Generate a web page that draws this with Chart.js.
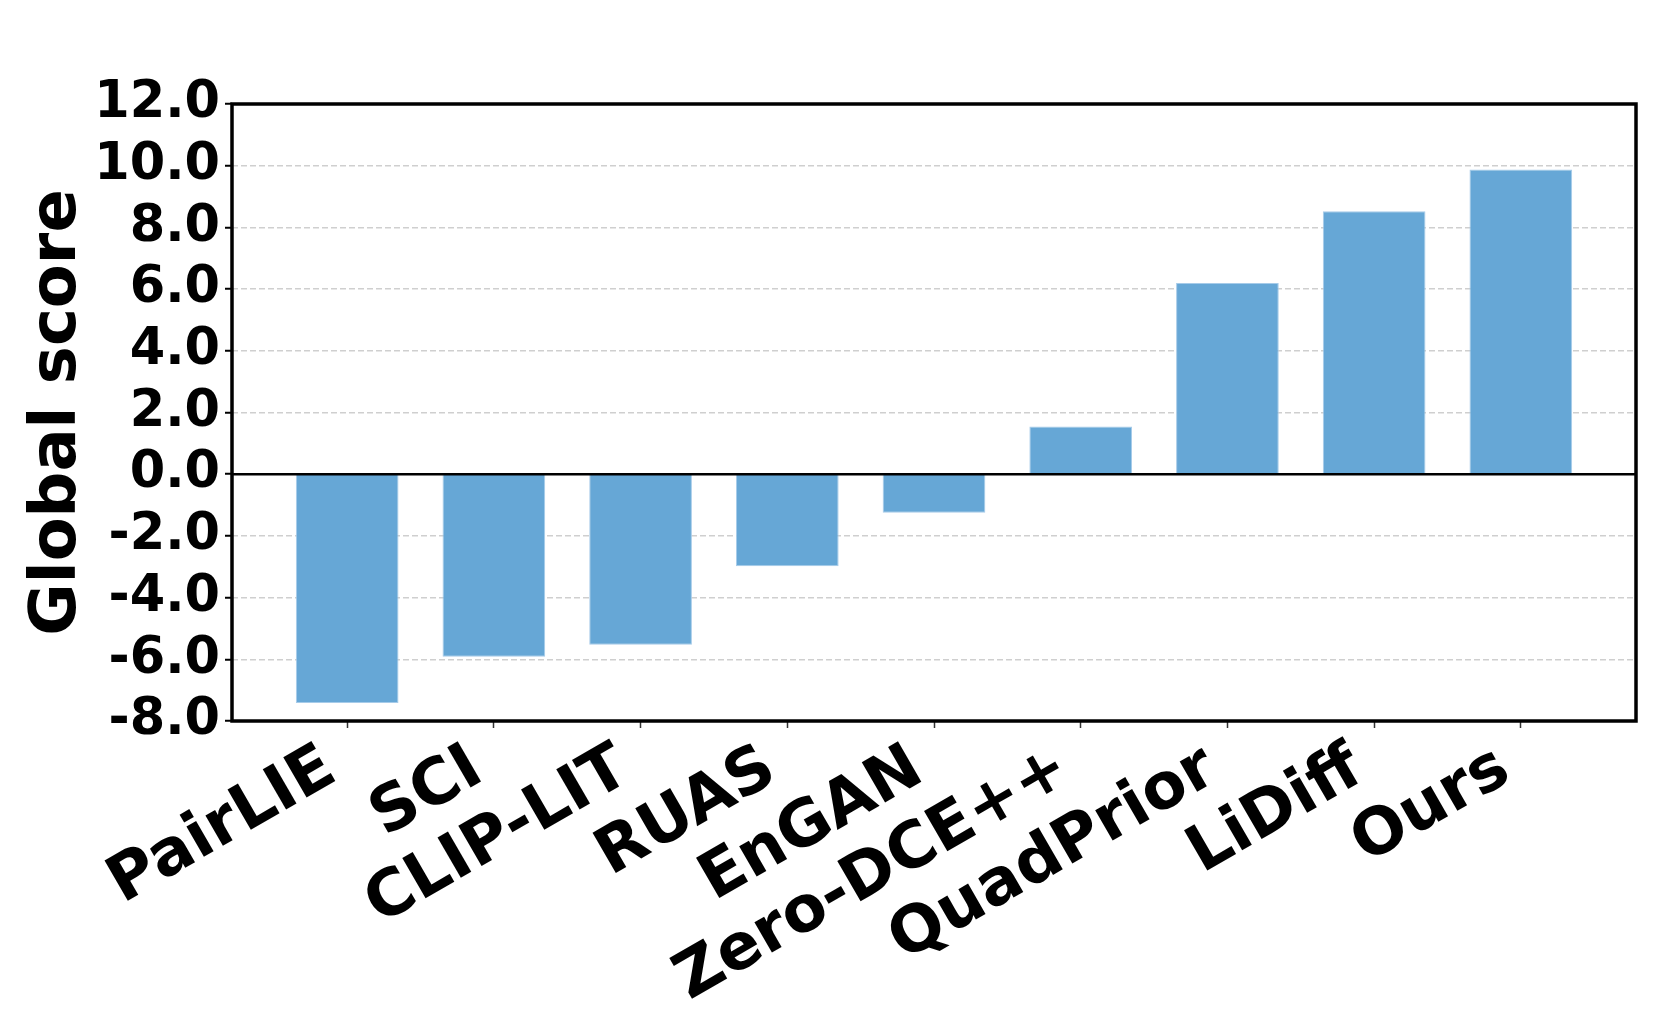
<!DOCTYPE html>
<html>
<head>
<meta charset="utf-8">
<title>Global score</title>
<script src="https://cdn.jsdelivr.net/npm/chart.js@4.4.1/dist/chart.umd.min.js"></script>
<style>
  html, body { margin: 0; padding: 0; background: #fff; }
  #scoreChart { display: block; }
</style>
</head>
<body>
<canvas id="scoreChart" width="1661" height="1036"></canvas>
<script>
// --- DATA ---
const methods = ['PairLIE', 'SCI', 'CLIP-LIT', 'RUAS', 'EnGAN', 'Zero-DCE++', 'QuadPrior', 'LiDiff', 'Ours'];
const globalScores = [-7.42, -5.92, -5.53, -2.98, -1.25, 1.55, 6.2, 8.52, 9.88];
const yTicks = [-8, -6, -4, -2, 0, 2, 4, 6, 8, 10, 12];

Chart.defaults.font.family = "'DejaVu Sans', sans-serif";
Chart.defaults.font.weight = 'bold';
Chart.defaults.color = '#000';

// zero line + black frame round the plot
const frameAndZero = {
  id: 'frameAndZero',
  afterDatasetsDraw(chart) {
    const { ctx, chartArea: a, scales: { y } } = chart;
    const y0 = y.getPixelForValue(0);
    ctx.save();
    ctx.strokeStyle = '#000';
    ctx.lineWidth = 2.5;
    ctx.beginPath();
    ctx.moveTo(a.left, y0);
    ctx.lineTo(a.right, y0);
    ctx.stroke();
    ctx.lineWidth = 3.5;
    ctx.strokeRect(a.left, a.top, a.right - a.left, a.bottom - a.top);
    ctx.restore();
  }
};

const ctx = document.getElementById('scoreChart').getContext('2d');
new Chart(ctx, {
  type: 'bar',
  data: {
    datasets: [{
      label: 'Global score',
      data: globalScores.map((v, i) => ({ x: i, y: v })),
      backgroundColor: '#66a7d6',
      borderColor: '#a6cbe9',
      borderWidth: 1,
      categoryPercentage: 1,
      barPercentage: 0.7
    }]
  },
  options: {
    responsive: false,
    animation: false,
    layout: { padding: { top: 104, right: 25, left: 0, bottom: 0 } },
    plugins: {
      legend: { display: false },
      tooltip: { enabled: false }
    },
    scales: {
      x: {
        type: 'linear',
        min: -0.785,
        max: 8.785,
        offset: false,
        afterBuildTicks: (scale) => { scale.ticks = methods.map((m, i) => ({ value: i })); },
        afterFit: (scale) => { scale.height = 1036 - 721; },
        grid: { offset: false, drawOnChartArea: false, tickLength: 7, tickColor: '#333', tickWidth: 1.5 },
        border: { display: false },
        ticks: {
          autoSkip: false,
          minRotation: 30,
          maxRotation: 30,
          padding: 3,
          labelOffset: -16,
          font: { size: 64, weight: 'bold' },
          callback: (v) => methods[v]
        }
      },
      y: {
        min: -8,
        max: 12,
        afterBuildTicks: (scale) => { scale.ticks = yTicks.map(v => ({ value: v })); },
        afterFit: (scale) => { scale.width = 232; },
        grid: {
          color: '#cfcfcf',
          lineWidth: 1.5,
          tickLength: 7,
          tickColor: '#000',
          tickWidth: 2,
          tickBorderDash: []
        },
        border: { display: false, dash: [6, 3] },
        ticks: {
          autoSkip: false,
          padding: 5,
          font: { size: 51, weight: 'bold' },
          callback: (v) => Number(v).toFixed(1)
        },
        title: {
          display: true,
          text: 'Global score',
          padding: { top: 20, bottom: 0 },
          font: { size: 64, weight: 'bold' }
        }
      }
    }
  },
  plugins: [frameAndZero]
});
</script>
</body>
</html>
